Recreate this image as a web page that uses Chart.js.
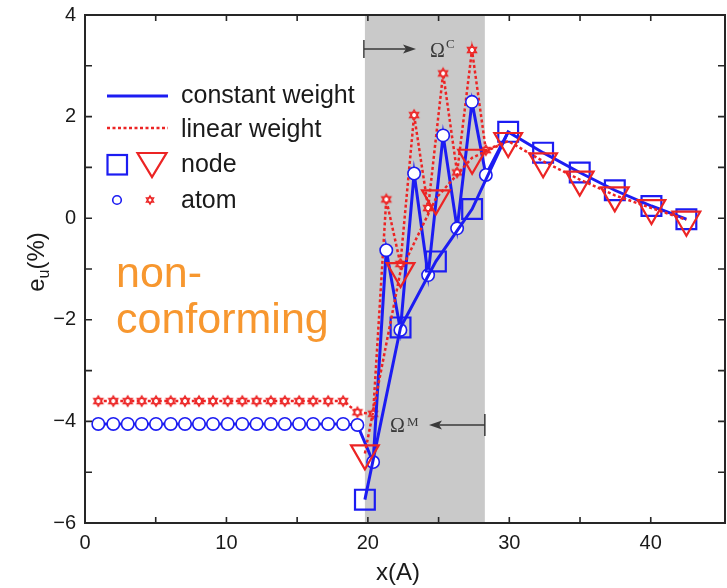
<!DOCTYPE html>
<html><head><meta charset="utf-8">
<script src="https://cdn.jsdelivr.net/npm/chart.js@4.4.0/dist/chart.umd.min.js"></script>
<style>html,body{margin:0;padding:0;background:#fff;}#wrap{position:relative;width:727px;height:588px;}</style>
</head><body><div id="wrap"><canvas id="c" width="727" height="588"></canvas></div>
<script>
// ---- data ----
const atomX = [0.94, 2.0, 3.02, 4.01, 5.02, 6.06, 7.07, 8.06, 9.05, 10.09, 11.12, 12.13, 13.14, 14.13, 15.14, 16.13, 17.19, 18.25, 19.26, 20.37, 21.3, 22.3, 23.27, 24.26, 25.32, 26.31, 27.36, 28.34];
const atomConstant = [-4.05, -4.05, -4.05, -4.05, -4.05, -4.05, -4.05, -4.05, -4.05, -4.05, -4.05, -4.05, -4.05, -4.05, -4.05, -4.05, -4.05, -4.05, -4.07, -4.8, -0.63, -2.2, 0.88, -1.12, 1.63, -0.2, 2.29, 0.85];
const atomLinear = [-3.6, -3.6, -3.6, -3.6, -3.6, -3.6, -3.6, -3.6, -3.6, -3.6, -3.6, -3.6, -3.6, -3.6, -3.6, -3.6, -3.6, -3.6, -3.82, -3.85, 0.37, -0.9, 2.03, 0.2, 2.85, 0.9, 3.31, 1.34];
const nodeX = [19.79, 22.31, 24.81, 27.37, 29.92, 32.39, 34.98, 37.46, 40.05, 42.52];
const nodeConstant = [-5.54, -2.15, -0.85, 0.18, 1.70, 1.29, 0.90, 0.55, 0.24, -0.02];
const nodeLinear = [-4.63, -1.04, 0.39, 1.19, 1.52, 1.12, 0.76, 0.45, 0.20, -0.03];
const xTickLabels = [0, 10, 20, 30, 40];
const yTickLabels = [-6, -4, -2, 0, 2, 4];
const legendLabels = ['constant weight', 'linear weight', 'node', 'atom'];
const couplingRegion = [19.79, 28.27];
const regionLabels = ['Ω', 'C', 'M'];
const noteLines = ['non-', 'conforming'];
const xTitle = 'x(A)';
const yTitle = ['e', 'u', '(%)'];

const BLUE = '#1c1cf2';
const RED = '#ec2424';

function makeStar(size, r, lw, color) {
  const c = document.createElement('canvas');
  c.width = size; c.height = size;
  const g = c.getContext('2d');
  const cx = size / 2, cy = size / 2;
  const tri = (rot) => {
    g.beginPath();
    for (let k = 0; k < 3; k++) {
      const a = rot - Math.PI / 2 + k * 2 * Math.PI / 3;
      const px = cx + r * Math.cos(a), py = cy + r * Math.sin(a);
      if (k === 0) g.moveTo(px, py); else g.lineTo(px, py);
    }
    g.closePath();
  };
  g.fillStyle = '#fff';
  tri(0); g.fill(); tri(Math.PI); g.fill();
  g.strokeStyle = color; g.lineWidth = lw;
  tri(0); g.stroke(); tri(Math.PI); g.stroke();
  return c;
}
const starBig = makeStar(14, 5.2, 1.4, RED);
const starSmall = makeStar(12, 4.2, 1.3, RED);

function pts(xs, ys) { return xs.map((x, i) => ({x: x, y: ys[i]})); }
// atom lines continue into the first node beyond the coupling region
const bridgeIdx = 4;
const atomConstData = pts(atomX, atomConstant).concat([{x: nodeX[bridgeIdx], y: nodeConstant[bridgeIdx]}]);
const atomLinData = pts(atomX, atomLinear).concat([{x: nodeX[bridgeIdx], y: nodeLinear[bridgeIdx]}]);
const lastAtom = atomX.length;

const fmt = v => String(v).replace('-', '\u2212');
const noPad = s => { s.paddingTop = 0; s.paddingBottom = 0; s.paddingLeft = 0; s.paddingRight = 0; };

const decor = {
  id: 'decor',
  beforeDatasetsDraw(chart) {
    const {ctx, chartArea: a, scales: {x}} = chart;
    ctx.save();
    ctx.fillStyle = '#c9c9c9';
    const x1 = x.getPixelForValue(couplingRegion[0]), x2 = x.getPixelForValue(couplingRegion[1]);
    ctx.fillRect(x1, a.top, x2 - x1, a.bottom - a.top);
    ctx.restore();
  },
  afterDraw(chart) {
    const {ctx, chartArea: a, scales: {x, y}} = chart;
    ctx.save();
    // frame
    ctx.strokeStyle = '#262626';
    ctx.lineWidth = 2;
    ctx.strokeRect(a.left, a.top, a.right - a.left, a.bottom - a.top);
    // ticks
    ctx.lineWidth = 1.6;
    ctx.beginPath();
    for (let v = -6; v <= 4; v++) {
      const py = y.getPixelForValue(v);
      if (py > a.top + 3 && py < a.bottom - 3) {
        ctx.moveTo(a.left, py); ctx.lineTo(a.left + 7, py);
        ctx.moveTo(a.right, py); ctx.lineTo(a.right - 7, py);
      }
    }
    for (let v = 0; v <= 45; v += 5) {
      const px = x.getPixelForValue(v);
      if (px > a.left + 3 && px < a.right - 5) {
        ctx.moveTo(px, a.bottom); ctx.lineTo(px, a.bottom - 6);
        ctx.moveTo(px, a.top); ctx.lineTo(px, a.top + 6);
      }
    }
    ctx.stroke();

    // axis titles
    ctx.fillStyle = '#1a1a1a';
    ctx.font = '24px "Liberation Sans", Arial, sans-serif';
    ctx.textAlign = 'center';
    ctx.textBaseline = 'middle';
    ctx.fillText(xTitle, 398, 573);
    ctx.save();
    ctx.translate(36, 262);
    ctx.rotate(-Math.PI / 2);
    ctx.textAlign = 'left';
    ctx.textBaseline = 'alphabetic';
    const fBig = '24px "Liberation Sans", Arial, sans-serif', fSm = '16px "Liberation Sans", Arial, sans-serif';
    ctx.font = fBig; const w1 = ctx.measureText(yTitle[0]).width, w3 = ctx.measureText(yTitle[2]).width;
    ctx.font = fSm; const w2 = ctx.measureText(yTitle[1]).width;
    let sx = -(w1 + w2 + w3) / 2;
    ctx.font = fBig; ctx.fillText(yTitle[0], sx, 8); sx += w1;
    ctx.font = fSm; ctx.fillText(yTitle[1], sx, 13); sx += w2;
    ctx.font = fBig; ctx.fillText(yTitle[2], sx, 8);
    ctx.restore();

    // legend
    ctx.lineCap = 'butt';
    ctx.strokeStyle = BLUE; ctx.lineWidth = 3;
    ctx.beginPath(); ctx.moveTo(107, 96); ctx.lineTo(168, 96); ctx.stroke();
    ctx.strokeStyle = RED; ctx.lineWidth = 2.5; ctx.setLineDash([3, 2.5]);
    ctx.beginPath(); ctx.moveTo(107, 128); ctx.lineTo(168, 128); ctx.stroke();
    ctx.setLineDash([]);
    ctx.strokeStyle = BLUE; ctx.lineWidth = 2.2;
    ctx.strokeRect(107.5, 155, 19.5, 19.5);
    ctx.strokeStyle = RED; ctx.lineWidth = 2.2;
    ctx.beginPath(); ctx.moveTo(137.5, 153); ctx.lineTo(166.5, 153); ctx.lineTo(152, 177); ctx.closePath(); ctx.stroke();
    ctx.strokeStyle = BLUE; ctx.lineWidth = 1.6;
    ctx.beginPath(); ctx.arc(117, 200, 4.3, 0, Math.PI * 2); ctx.stroke();
    ctx.drawImage(starSmall, 150 - 6, 200 - 6);
    ctx.fillStyle = '#1a1a1a';
    ctx.font = '25px "Liberation Sans", Arial, sans-serif';
    ctx.textAlign = 'left'; ctx.textBaseline = 'alphabetic';
    const rows = [103, 137, 172, 208];
    legendLabels.forEach((t, i) => ctx.fillText(t, 181, rows[i]));

    // region annotations
    ctx.strokeStyle = '#3a3a3a'; ctx.fillStyle = '#3a3a3a'; ctx.lineWidth = 1.5;
    const xc = x.getPixelForValue(couplingRegion[0]) - 1;
    ctx.beginPath(); ctx.moveTo(xc, 40); ctx.lineTo(xc, 58); ctx.moveTo(xc, 49); ctx.lineTo(408, 49); ctx.stroke();
    ctx.beginPath(); ctx.moveTo(416, 49); ctx.lineTo(403, 44.5); ctx.lineTo(406, 49); ctx.lineTo(403, 53.5); ctx.closePath(); ctx.fill();
    const xm = x.getPixelForValue(couplingRegion[1]);
    ctx.beginPath(); ctx.moveTo(xm, 414); ctx.lineTo(xm, 436); ctx.moveTo(xm, 425); ctx.lineTo(437, 425); ctx.stroke();
    ctx.beginPath(); ctx.moveTo(429, 425); ctx.lineTo(442, 420.5); ctx.lineTo(439, 425); ctx.lineTo(442, 429.5); ctx.closePath(); ctx.fill();
    ctx.font = '20px "Liberation Serif", "Times New Roman", serif';
    ctx.fillText(regionLabels[0], 430, 57);
    ctx.fillText(regionLabels[0], 390, 432);
    ctx.font = '13px "Liberation Serif", "Times New Roman", serif';
    ctx.fillText(regionLabels[1], 446, 48);
    ctx.fillText(regionLabels[2], 407, 426);

    // note
    ctx.fillStyle = '#f7972f';
    ctx.font = '43px "Liberation Sans", Arial, sans-serif';
    ctx.fillText(noteLines[0], 116, 287);
    ctx.fillText(noteLines[1], 116, 333);
    ctx.restore();
  }
};

new Chart(document.getElementById('c'), {
  type: 'scatter',
  data: {
    datasets: [
      {
        label: 'node linear', data: pts(nodeX, nodeLinear), showLine: true, order: 0,
        borderColor: RED, borderWidth: 2.5, borderDash: [3, 2.5],
        pointStyle: 'triangle', rotation: 180, pointRadius: 16, pointBorderWidth: 2.2,
        pointBorderColor: RED, pointBackgroundColor: 'rgba(0,0,0,0)'
      },
      {
        label: 'node constant', data: pts(nodeX, nodeConstant), showLine: true, order: 1,
        borderColor: BLUE, borderWidth: 3,
        pointStyle: 'rect', pointRadius: 14, pointBorderWidth: 2.2,
        pointBorderColor: BLUE, pointBackgroundColor: 'rgba(0,0,0,0)'
      },
      {
        label: 'atom constant', data: atomConstData, showLine: true, order: 2,
        borderColor: BLUE, borderWidth: 3,
        pointStyle: 'circle', pointRadius: c => c.dataIndex >= lastAtom ? 0 : 6.2, pointBorderWidth: 1.6,
        pointBorderColor: BLUE, pointBackgroundColor: '#ffffff'
      },
      {
        label: 'atom linear', data: atomLinData, showLine: true, order: 3,
        borderColor: RED, borderWidth: 2.5, borderDash: [3, 2.5],
        pointStyle: starBig, pointRadius: c => c.dataIndex >= lastAtom ? 0 : 6,
        pointBorderColor: RED, pointBackgroundColor: '#ffffff'
      }
    ]
  },
  options: {
    responsive: false, animation: false, devicePixelRatio: 1,
    layout: {autoPadding: false, padding: {left: 0, top: 15, right: 2, bottom: 0}},
    plugins: {legend: {display: false}, tooltip: {enabled: false}},
    elements: {line: {tension: 0}},
    scales: {
      x: {
        type: 'linear', min: 0, max: 45.25,
        grid: {display: false, drawTicks: false}, border: {display: false},
        ticks: {stepSize: 10, includeBounds: false, padding: 8, color: '#1a1a1a',
          font: {family: '"Liberation Sans", Arial, sans-serif', size: 20},
          callback: v => xTickLabels.includes(v) ? fmt(v) : ''},
        afterFit: s => { s.height = 65; noPad(s); }
      },
      y: {
        type: 'linear', min: -6, max: 4,
        grid: {display: false, drawTicks: false}, border: {display: false},
        ticks: {stepSize: 2, padding: 9, color: '#1a1a1a',
          font: {family: '"Liberation Sans", Arial, sans-serif', size: 20},
          callback: v => yTickLabels.includes(v) ? fmt(v) : ''},
        afterFit: s => { s.width = 85; noPad(s); }
      }
    }
  },
  plugins: [decor]
});
</script></body></html>
